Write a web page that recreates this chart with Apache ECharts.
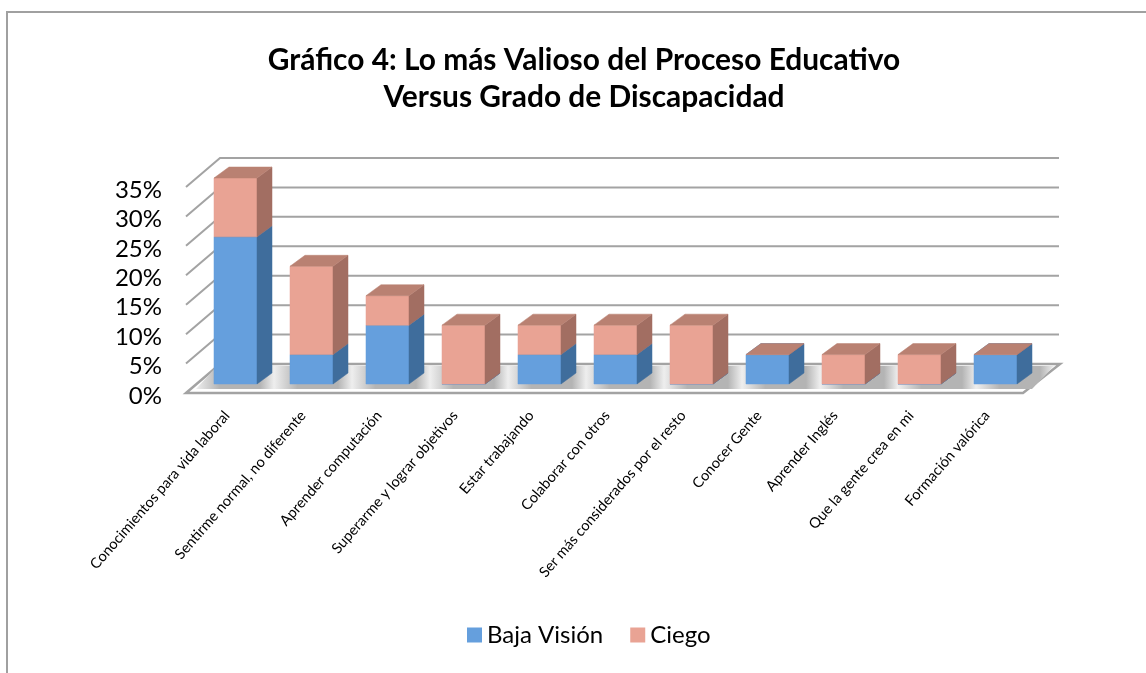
<!DOCTYPE html>
<html><head><meta charset="utf-8">
<style>html,body{margin:0;padding:0;background:#fff}#c{width:1146px;height:673px}</style>
<script src="https://cdn.jsdelivr.net/npm/echarts@6/dist/echarts.min.js"></script>
</head><body><div id="c"></div>
<script>
var categories = ["Conocimientos para vida laboral","Sentirme normal, no diferente","Aprender computación","Superarme y lograr objetivos","Estar trabajando","Colaborar con otros","Ser más considerados por el resto","Conocer Gente","Aprender Inglés","Que la gente crea en mi","Formación valórica"];
var bajaVision = [25,5,10,0,5,5,0,5,0,0,5];
var ciego = [10,15,5,10,5,5,10,0,5,5,0];
var yTicks = [0,5,10,15,20,25,30,35];
var titleText = "Gráfico 4: Lo más Valioso del Proceso Educativo\nVersus Grado de Discapacidad";

var FONT = "Lato";
var wallDx = 34, wallDy = -29;
var barDx = 11.5, barDy = -9, depthDx = 15, depthDy = -11;

function poly(points, fill){
  return {type:'polygon', shape:{points:points}, style:{fill:fill, stroke:fill, lineWidth:0.5}};
}
function boxRender(front, side, top){
  return function(params, api){
    var c0 = api.coord([api.value(0), api.value(1)]);
    var c1 = api.coord([api.value(0), api.value(2)]);
    var band = api.size([1,0])[0];
    var w = band*0.566;
    var l = c0[0]+barDx-w/2, r = l+w;
    var b = c0[1]+barDy, t = c1[1]+barDy;
    return {type:'group', children:[
      poly([[l,t],[r,t],[r,b],[l,b]], front),
      poly([[r,t],[r+depthDx,t+depthDy],[r+depthDx,b+depthDy],[r,b]], side),
      poly([[l,t],[l+depthDx,t+depthDy],[r+depthDx,t+depthDy],[r,t]], top)
    ]};
  };
}
var bajaData = bajaVision.map(function(v,i){return [i,0,v];});
var ciegoData = ciego.map(function(v,i){return [i,bajaVision[i],bajaVision[i]+v];});

function wallRender(params, api){
  var v = api.value(0);
  var p0 = api.coord([0,v]);
  var band = api.size([1,0])[0];
  var left = p0[0]-band/2;
  var rightBack = left+band*categories.length+wallDx+3;
  return {type:'polyline', shape:{points:[[left,p0[1]],[left+wallDx,p0[1]+wallDy],[rightBack,p0[1]+wallDy]]},
    style:{fill:'none', stroke:'#a3a3a3', lineWidth:2}};
}
function floorRender(params, api){
  var p0 = api.coord([0,0]);
  var band = api.size([1,0])[0];
  var left = p0[0]-band/2, right = left+band*categories.length+1;
  var y = p0[1];
  var stops = [];
  for (var i=0;i<categories.length;i++){
    stops.push({offset:i/categories.length, color:'#eeeeee'});
    stops.push({offset:(i+0.3)/categories.length, color:'#b4b4b4'});
    stops.push({offset:(i+0.82)/categories.length, color:'#b4b4b4'});
  }
  stops.push({offset:1, color:'#eeeeee'});
  return {type:'group', children:[
    {type:'polygon', shape:{points:[[left,y],[left+wallDx,y+wallDy],[right+wallDx+3,y+wallDy],[right,y]]},
     style:{fill:'#fff', stroke:'#a3a3a3', lineWidth:2.5}},
    {type:'polygon', shape:{points:[[left+10,y-4],[left+wallDx-3,y-27],[right+wallDx-3,y-27],[right+9,y-4]]},
     style:{fill:{type:'linear',x:0,y:0,x2:1,y2:0,colorStops:stops}}}
  ]};
}
var chart = echarts.init(document.getElementById('c'));
chart.setOption({
  animation:false,
  backgroundColor:'#fff',
  graphic:[{type:'polyline', silent:true, shape:{points:[[7,673],[7,12],[1146,12]]}, style:{fill:'none',stroke:'#a0a0a0',lineWidth:2}}],
  title:{text:titleText, left:579, top:37, textAlign:'center',
    textStyle:{fontFamily:FONT, fontWeight:'bold', fontSize:29.9, lineHeight:37, color:'#000'}},
  legend:{left:462, top:618, itemWidth:15, itemHeight:15, itemGap:27, icon:'rect',
    textStyle:{fontFamily:FONT, fontSize:24, color:'#000'},
    data:[{name:'Baja Visión', itemStyle:{color:'#659FDD'}},{name:'Ciego', itemStyle:{color:'#E9A394'}}]},
  grid:[{left:186, right:124, top:187, bottom:280},{left:189, right:121, top:190, bottom:277}],
  xAxis:[
    {type:'category', gridIndex:0, data:categories, axisLine:{show:false}, axisTick:{show:false}, splitLine:{show:false}, axisLabel:{show:false}},
    {type:'category', gridIndex:1, data:categories, axisLine:{show:false}, axisTick:{show:false}, splitLine:{show:false},
      axisLabel:{interval:0, rotate:49, margin:17, fontFamily:FONT, fontSize:14.6, color:'#000'}}
  ],
  yAxis:[
    {type:'value', gridIndex:0, min:0, max:35, interval:5, axisLine:{show:false}, axisTick:{show:false}, splitLine:{show:false}, axisLabel:{show:false}},
    {type:'value', gridIndex:1, min:0, max:35, interval:5, axisLine:{show:false}, axisTick:{show:false}, splitLine:{show:false},
      axisLabel:{margin:27, fontFamily:FONT, fontSize:24, color:'#000', formatter:'{value}%'}}
  ],
  series:[
    {type:'custom', name:'floor', coordinateSystem:'cartesian2d', xAxisIndex:0, yAxisIndex:0, silent:true, renderItem:floorRender, data:[[0]], encode:{x:-1,y:-1}, z:1},
    {type:'custom', name:'walls', coordinateSystem:'cartesian2d', xAxisIndex:0, yAxisIndex:0, silent:true, renderItem:wallRender, data:yTicks.slice(1).map(function(v){return [v];}), encode:{x:-1,y:0}, z:1},
    {type:'custom', name:'Baja Visión', coordinateSystem:'cartesian2d', xAxisIndex:0, yAxisIndex:0, renderItem:boxRender('#659FDD','#3F6D9C','#4A7FB5'), data:bajaData, encode:{x:0,y:[1,2]}, itemStyle:{color:'#659FDD'}, z:2},
    {type:'custom', name:'Ciego', coordinateSystem:'cartesian2d', xAxisIndex:0, yAxisIndex:0, renderItem:boxRender('#E9A394','#A26E62','#B98172'), data:ciegoData, encode:{x:0,y:[1,2]}, itemStyle:{color:'#E9A394'}, z:3}
  ]
});
</script></body></html>
